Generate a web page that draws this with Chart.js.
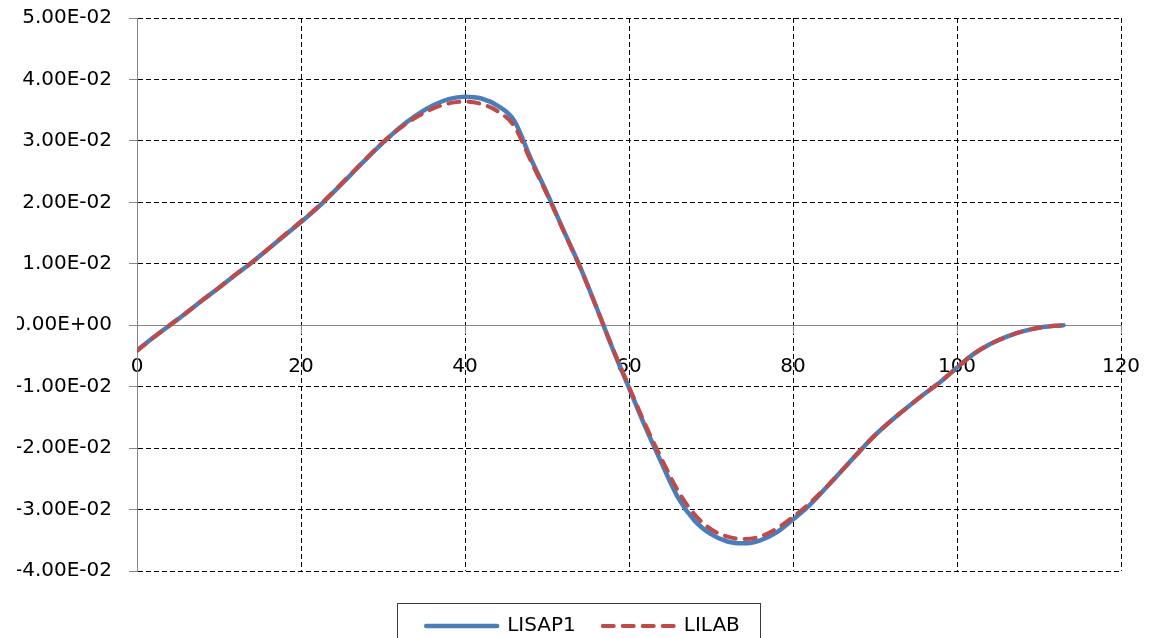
<!DOCTYPE html>
<html>
<head>
<meta charset="utf-8">
<script src="https://cdn.jsdelivr.net/npm/chart.js@4"></script>
<style>
  html, body { margin: 0; padding: 0; background: #fff; overflow: hidden; }
  #wrap { width: 1149px; height: 680px; position: relative; }
</style>
</head>
<body>
<div id="wrap"><canvas id="c"></canvas></div>
<script>
// ---- data ----
const xValues = [0, 2, 4, 6, 8, 10, 12, 14, 16, 18, 20, 22, 24, 26, 28, 30, 32, 34, 36, 38, 40,
  42, 44, 46, 48, 50, 52, 54, 56, 58, 60, 62, 64, 66, 68, 70, 72, 74, 76, 78, 80,
  82, 84, 86, 88, 90, 92, 94, 96, 98, 100, 102, 104, 106, 108, 110, 112, 113];

const lisap1 = [-0.0041, -0.0020, 0.0000, 0.0020, 0.0041, 0.0061, 0.0082, 0.0102, 0.0124, 0.0146, 0.0168,
  0.0191, 0.0217, 0.0244, 0.0271, 0.0297, 0.0321, 0.0341, 0.0357, 0.0368, 0.0372,
  0.0369, 0.0357, 0.0333, 0.0272, 0.0215, 0.0155, 0.0096, 0.0030, -0.0038, -0.0102,
  -0.0166, -0.0225, -0.0281, -0.0318, -0.0340, -0.0352, -0.0355, -0.0350, -0.0337, -0.0316,
  -0.0293, -0.0265, -0.0236, -0.0207, -0.0179, -0.0155, -0.0133, -0.0112, -0.0092, -0.0069,
  -0.0047, -0.0031, -0.0019, -0.0010, -0.0004, -0.0001, 0.0000];

const lilab = [-0.0042, -0.0020, 0.0000, 0.0020, 0.0041, 0.0061, 0.0082, 0.0102, 0.0124, 0.0147, 0.0169,
  0.0192, 0.0218, 0.0245, 0.0272, 0.0298, 0.0320, 0.0338, 0.0352, 0.0361, 0.0364,
  0.0360, 0.0348, 0.0324, 0.0268, 0.0213, 0.0154, 0.0095, 0.0030, -0.0037, -0.0100,
  -0.0162, -0.0218, -0.0270, -0.0308, -0.0332, -0.0344, -0.0348, -0.0344, -0.0331, -0.0312,
  -0.0290, -0.0264, -0.0236, -0.0207, -0.0179, -0.0155, -0.0133, -0.0112, -0.0092, -0.0069,
  -0.0047, -0.0031, -0.0019, -0.0010, -0.0004, -0.0001, 0.0000];

const seriesNames = ['LISAP1', 'LILAB'];
const xTickStep = 20;
const xRange = [0, 120];
const yTickStep = 0.01;
const yRange = [-0.04, 0.05];

// ---- helpers ----
function sciLabel(v) {
  if (Math.abs(v) < 1e-12) return '0.00E+00';
  const parts = v.toExponential(2).split('e');
  const sign = parts[1][0];
  const digits = parts[1].slice(1).padStart(2, '0');
  return parts[0] + 'E' + sign + digits;
}
const toPoints = (ys) => xValues.map((x, i) => ({ x: x, y: ys[i] }));

const FONT = 'DejaVu Sans';
const GRID_DASH = [5, 3];
const AXIS_GRAY = '#868686';

// legend frame + position tweak
const legendTweak = {
  id: 'legendTweak',
  afterLayout(chart) {
    const lg = chart.legend;
    if (!lg) return;
    const dx = 14, dy = 18;
    lg.left += dx; lg.right += dx;
    lg.top += dy; lg.bottom += dy;
  },
  afterDraw(chart) {
    const lg = chart.legend;
    if (!lg || !lg.legendHitBoxes || !lg.legendHitBoxes.length) return;
    const hb = lg.legendHitBoxes;
    const first = hb[0], last = hb[hb.length - 1];
    const ctx = chart.ctx;
    const x1 = first.left - 29;
    const x2 = last.left + last.width + 20;
    const y1 = lg.top + 14;
    const y2 = chart.height + 10;
    ctx.save();
    ctx.strokeStyle = '#3c3c3c';
    ctx.lineWidth = 1;
    ctx.setLineDash([]);
    ctx.strokeRect(Math.round(x1) + 0.5, Math.round(y1) + 0.5, Math.round(x2 - x1), y2 - y1);
    ctx.restore();
  }
};

new Chart(document.getElementById('c'), {
  type: 'line',
  data: {
    datasets: [
      {
        label: seriesNames[0],
        data: toPoints(lisap1),
        borderColor: '#4A7EBB',
        backgroundColor: '#4A7EBB',
        borderWidth: 4.5,
        pointRadius: 0,
        fill: false,
        cubicInterpolationMode: 'monotone',
        borderCapStyle: 'round',
        order: 1
      },
      {
        label: seriesNames[1],
        data: toPoints(lilab),
        borderColor: '#BE4B48',
        backgroundColor: '#BE4B48',
        borderWidth: 4,
        borderDash: [11, 9],
        borderCapStyle: 'round',
        pointRadius: 0,
        fill: false,
        cubicInterpolationMode: 'monotone',
        order: 0
      }
    ]
  },
  options: {
    responsive: true,
    maintainAspectRatio: false,
    animation: false,
    devicePixelRatio: 1,
    layout: { padding: { left: 17, right: 28, top: 18, bottom: 52 } },
    plugins: {
      tooltip: { enabled: false },
      legend: {
        position: 'bottom',
        labels: {
          usePointStyle: true,
          pointStyle: 'line',
          pointStyleWidth: 71,
          padding: 27,
          color: '#000',
          font: { family: FONT, size: 20 },
          sort: (a, b) => a.datasetIndex - b.datasetIndex,
          generateLabels(chart) {
            const items = Chart.defaults.plugins.legend.labels.generateLabels(chart);
            items.forEach((it) => {
              const ds = chart.data.datasets[it.datasetIndex];
              it.lineDash = ds.borderDash || [];
              it.lineDashOffset = 0;
              it.lineCap = ds.borderCapStyle || 'butt';
              it.lineWidth = ds.borderWidth;
              it.strokeStyle = ds.borderColor;
              it.fillStyle = ds.borderColor;
              it.pointStyle = 'line';
            });
            return items;
          }
        }
      }
    },
    scales: {
      x: {
        type: 'linear',
        position: { y: 0 },
        min: xRange[0],
        max: xRange[1],
        afterFit(scale) { scale.paddingLeft = 0; scale.paddingRight = 0; },
        ticks: {
          stepSize: xTickStep,
          color: '#000',
          padding: 22,
          maxRotation: 0,
          font: { family: FONT, size: 20 }
        },
        grid: {
          color: (c) => (c.tick && c.tick.value === xRange[0]) ? 'rgba(0,0,0,0)' : '#000',
          lineWidth: 1,
          tickLength: 8,
          tickColor: AXIS_GRAY,
          tickBorderDash: []
        },
        border: { display: true, color: AXIS_GRAY, width: 1, dash: GRID_DASH }
      },
      y: {
        type: 'linear',
        position: 'left',
        min: yRange[0],
        max: yRange[1],
        afterFit(scale) { scale.width = 120; scale.paddingTop = 0; scale.paddingBottom = 0; },
        ticks: {
          stepSize: yTickStep,
          color: '#000',
          padding: 17,
          font: { family: FONT, size: 20 },
          callback: (v) => sciLabel(v)
        },
        grid: {
          color: (c) => (c.tick && Math.abs(c.tick.value) < 1e-12) ? 'rgba(0,0,0,0)' : '#000',
          lineWidth: 1,
          tickLength: 8,
          tickColor: AXIS_GRAY,
          tickBorderDash: []
        },
        border: { display: true, color: AXIS_GRAY, width: 1, dash: GRID_DASH }
      }
    }
  },
  plugins: [legendTweak]
});
</script>
</body>
</html>
